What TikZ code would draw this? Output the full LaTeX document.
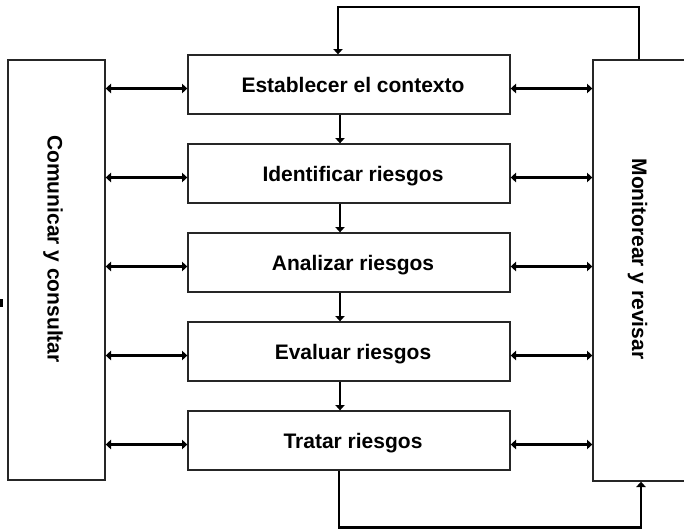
\documentclass[tikz,border=0pt]{standalone}
\usepackage{fontspec}
\setmainfont{Liberation Sans}
\usetikzlibrary{arrows.meta}
\begin{document}
\begin{tikzpicture}[x=0.75pt,y=-0.75pt,
  box/.style={draw=black!85,line width=1pt,inner sep=0pt,minimum width=241.5pt,minimum height=44.25pt},
  sidebox/.style={draw=black!85,line width=1pt,inner sep=0pt},
  lbl/.style={font=\fontsize{15.75}{18}\selectfont\bfseries,inner sep=0pt},
  conn/.style={line width=2.2pt,-{Triangle[length=4pt,width=7pt]}},
  dbl/.style={line width=2.2pt,{Triangle[length=4pt,width=7pt]}-{Triangle[length=4pt,width=7pt]}}]
\useasboundingbox (0,0) rectangle (684,529);
% side boxes
\node[sidebox,minimum width=72.75pt,minimum height=315pt] (L) at (56.5,270) {};
\node[sidebox,minimum width=72.75pt,minimum height=315.75pt] (R) at (641.5,270.5) {};
\node[lbl,rotate=-90] (Lt) at (53,249) {Comunicar y consultar};
\node[lbl,rotate=-90] (Rt) at (637.5,259) {Monitorear y revisar};
% process boxes
\foreach \i/\t in {1/Establecer el contexto,2/Identificar riesgos,3/Analizar riesgos,4/Evaluar riesgos,5/Tratar riesgos}{
  \node[box] (e\i) at (349,{84.5+89*(\i-1)}) {};
  \node[lbl,anchor=base] (t\i) at (353,{92+89*(\i-1)}) {\t};
  \coordinate (a\i) at (0,{88.5+89*(\i-1)});
  \draw[dbl] (L.east |- a\i) -- (e\i.west |- a\i);
  \draw[dbl] (e\i.east |- a\i) -- (R.west |- a\i);
}
% vertical flow
\coordinate (v) at (340,0);
\foreach \i/\j in {1/2,2/3,3/4,4/5}{
  \draw[conn] (e\i.south -| v) -- (e\j.north -| v);
}
% feedback loops
\coordinate (tr) at (639,7);
\coordinate (tl) at (338,7);
\draw[conn] (R.north -| tr) -- (tr) -- (tl) -- (e1.north -| tl);
\coordinate (bl) at (339,527.5);
\coordinate (br) at (641,527.5);
\draw[conn] (e5.south -| bl) -- (bl) -- (br) -- (R.south -| br);
% small mark at the left edge
\coordinate (m1) at (1.5,299);
\coordinate (m2) at (1.5,307);
\draw[line width=1.5pt] (m1) -- (m2);
\end{tikzpicture}
\end{document}
